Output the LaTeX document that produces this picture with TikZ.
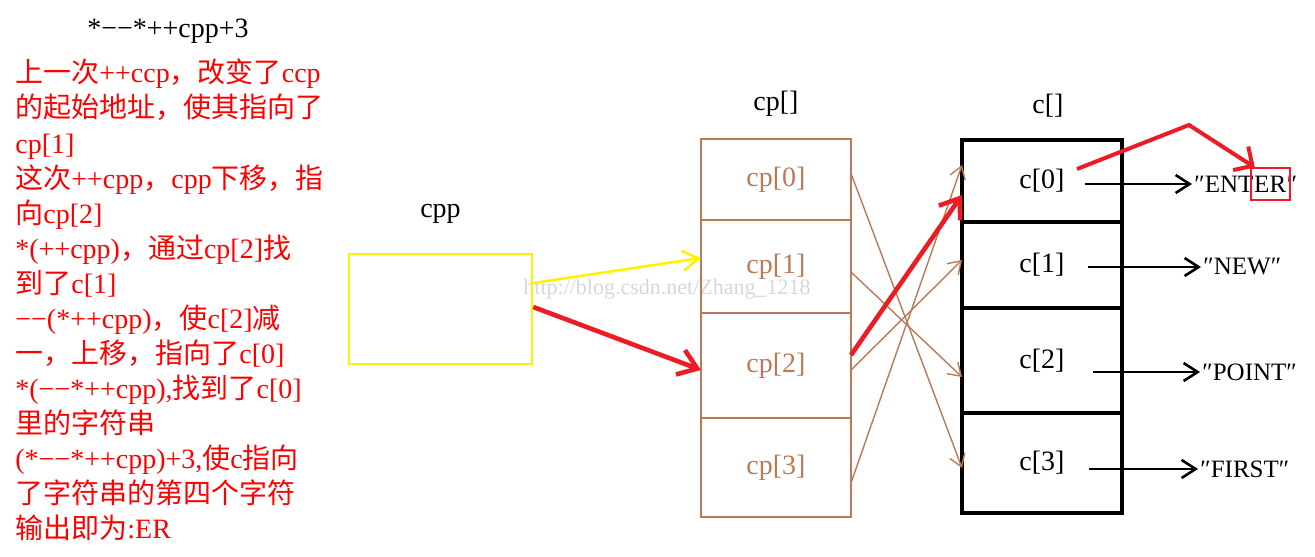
\documentclass[tikz,border=0pt]{standalone}
\usepackage{fontspec}
\setmainfont{Liberation Serif}
\newfontfamily\cjk{Noto Sans CJK SC}
\usetikzlibrary{arrows.meta,positioning,calc,fit}
\definecolor{paintred}{RGB}{237,28,36}
\definecolor{paintyellow}{RGB}{255,242,0}
\definecolor{cellbrown}{RGB}{185,122,87}
\definecolor{markgray}{RGB}{215,215,215}
\newcommand{\zh}[1]{{\cjk #1}}

\begin{document}
\begin{tikzpicture}[
    x=0.5pt, y=-0.5pt,
    big/.style={font=\fontsize{14pt}{17.5pt}\selectfont},
    note/.style={big, text=red, anchor=base west, inner sep=0pt},
    cpcell/.style={draw=cellbrown, line width=1.3pt, text=cellbrown, big, minimum width=75pt, outer sep=0pt},
    ccell/.style={draw=black, line width=2pt, big, minimum width=80pt, outer sep=0pt},
    strtxt/.style={font=\fontsize{12.5pt}{14pt}\selectfont, inner sep=0pt},
    ptr/.style={-{Straight Barb[length=7pt,width=9pt]}, line width=1.3pt},
    cross/.style={-{Straight Barb[length=6pt,width=8pt]}, cellbrown, line width=0.7pt},
    redarrow/.style={-{Straight Barb[length=9pt,width=13pt]}, paintred, line width=2.3pt}
]
    \useasboundingbox (0,0) rectangle (1315,556);

    % watermark, behind everything
    \node[font=\fontsize{11pt}{13pt}\selectfont, text=markgray] (mark) at (667,289) {http://blog.csdn.net/Zhang\_1218};

    % expression and explanation
    \node[big] (title) at (168,31) {*−−*++cpp+3};
    \foreach \txt [count=\i from 0] in {
        \zh{上一次}++ccp\zh{，改变了}ccp,
        \zh{的起始地址，使其指向了},
        cp[1],
        \zh{这次}++cpp\zh{，}cpp\zh{下移，指},
        \zh{向}cp[2],
        *(++cpp)\zh{，通过}cp[2]\zh{找},
        \zh{到了}c[1],
        −−(*++cpp)\zh{，使}c[2]\zh{减},
        \zh{一，上移，指向了}c[0],
        {*(−−*++cpp),\zh{找到了}c[0]},
        \zh{里的字符串},
        {(*−−*++cpp)+3,\zh{使}c\zh{指向}},
        \zh{了字符串的第四个字符},
        \zh{输出即为}:ER}
        \node[note] (line\i) at (15,83+35*\i) {\txt};

    % cpp
    \node[draw=paintyellow, line width=1.3pt, minimum width=91.5pt, minimum height=55pt] (cppbox) at (440.5,309) {};
    \node[big, above=11pt of cppbox] (cpplbl) {cpp};

    % cp[]
    \node[cpcell, minimum height=40.5pt] (cp0) at (776,179.5) {cp[0]};
    \node[cpcell, minimum height=46.5pt, below=0pt of cp0] (cp1) {cp[1]};
    \node[cpcell, minimum height=52.5pt, below=0pt of cp1] (cp2) {cp[2]};
    \node[cpcell, minimum height=49.5pt, below=0pt of cp2] (cp3) {cp[3]};
    \node[big, above=7.5pt of cp0] (cplbl) {cp[]};

    % c[]
    \node[ccell, minimum height=41pt] (c0) at (1042,181) {c[0]};
    \node[ccell, minimum height=43pt, below=0pt of c0] (c1) {c[1]};
    \node[ccell, minimum height=52.5pt, below=0pt of c1] (c2) {c[2]};
    \node[ccell, minimum height=50pt, below=0pt of c2] (c3) {c[3]};
    \node[big, above=8pt of c0, xshift=3pt] (clbl) {c[]};

    % strings
    \node[strtxt, anchor=west] (s0) at (1194,184) {″ENT};
    \node[strtxt, anchor=base west] (er) at (s0.base east) {ER};
    \node[strtxt, anchor=base west] (q0) at (er.base east) {″};
    \node[strtxt, anchor=west] (s1) at (1203,267) {″NEW″};
    \node[strtxt, anchor=west] (s2) at (1202,372) {″POINT″};
    \node[strtxt, anchor=west] (s3) at (1200,469) {″FIRST″};
    \node[draw=paintred, line width=1pt, fit=(er), inner xsep=1.5pt, inner ysep=3.5pt] (erbox) {};

    % cpp -> cp[]
    \draw[-{Straight Barb[length=8pt,width=10pt]}, paintyellow, line width=1.3pt] ($(cppbox.east)+(0,-26)$) -- ($(cp1.west)+(0,-8.5)$);
    \draw[redarrow] ($(cppbox.east)+(0,-2)$) -- ($(cp2.west)+(0,4.5)$);

    % cp[] -> c[]
    \draw[cross] ($(cp0.east)+(0,-6)$) -- ($(c3.west)+(0,5)$);
    \draw[cross] ($(cp1.east)+(0,5.5)$) -- ($(c2.west)+(0,16.5)$);
    \draw[cross] ($(cp2.east)+(0,4.5)$) -- ($(c1.west)+(0,-5)$);
    \draw[cross] ($(cp3.east)+(0,15.5)$) -- ($(c0.west)+(0,-16)$);
    \draw[redarrow] ($(cp2.east)+(0,-10.5)$) -- ($(c0.west)+(0,14)$);

    % c[] -> strings
    \foreach \i/\dx in {0/43,1/46,2/51,3/47}
        \draw[ptr, shorten >=1pt] ($(s\i.west -| c\i.center)+(\dx,0)$) -- (s\i.west);

    % result
    \coordinate (bend) at (1189,125);
    \draw[-{Straight Barb[length=7pt,width=14pt]}, paintred, line width=2pt] ($(c0.center)+(35,-12)$) -- (bend) -- ($(erbox.north west)+(5,0)$);
\end{tikzpicture}
\end{document}
